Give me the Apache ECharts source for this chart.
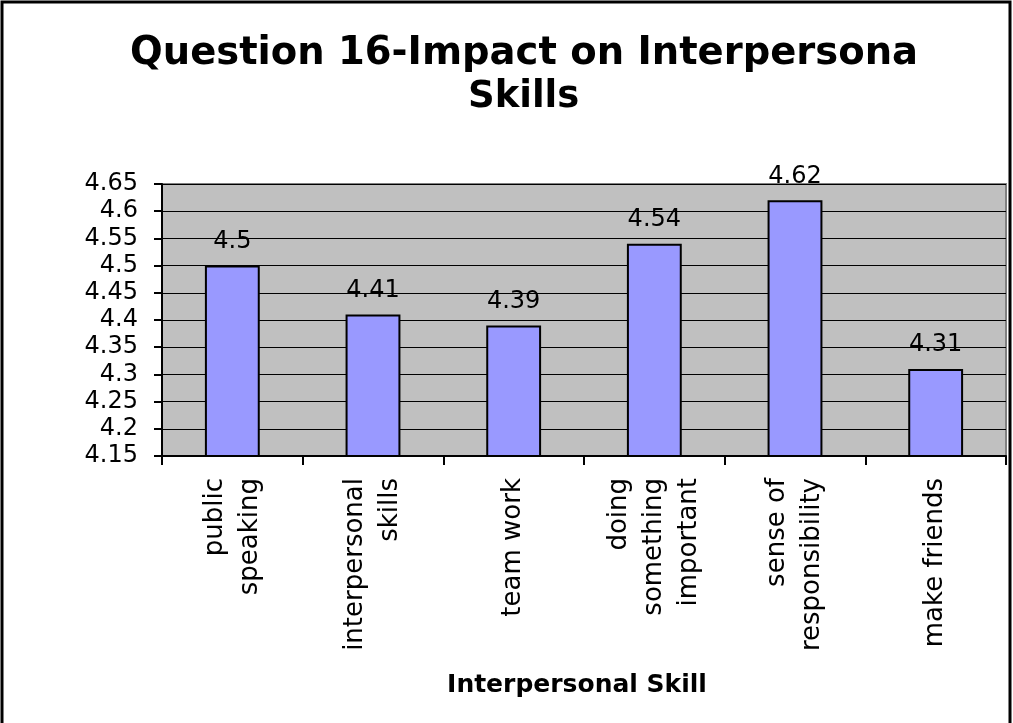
<!DOCTYPE html>
<html>
<head>
<meta charset="utf-8">
<script src="https://cdn.jsdelivr.net/npm/echarts@6/dist/echarts.min.js"></script>
<style>
  html, body { margin: 0; padding: 0; background: #fff; }
  #chart { width: 1013px; height: 723px; }
</style>
</head>
<body>
<div id="chart"></div>
<script>
// data
var titleLine1 = 'Question 16-Impact on Interpersona';
var titleLine2 = 'Skills';
var axisName = 'Interpersonal Skill';
var skills = ['public\nspeaking', 'interpersonal\nskills', 'team work',
  'doing\nsomething\nimportant', 'sense of\nresponsibility', 'make friends'];
var scores = [4.5, 4.41, 4.39, 4.54, 4.62, 4.31];
var yMin = 4.15, yMax = 4.65, yStep = 0.05;

var FONT = 'DejaVu Sans';
var chart = echarts.init(document.getElementById('chart'), null, { renderer: 'canvas' });

var option = {
  backgroundColor: '#fff',
  animation: false,
  title: [{
    text: titleLine1,
    left: 130,
    top: 34,
    padding: 0,
    textStyle: { fontFamily: FONT, fontSize: 38.5, fontWeight: 'bold', color: '#000' }
  }, {
    text: titleLine2,
    left: 468,
    top: 79,
    padding: 0,
    textStyle: { fontFamily: FONT, fontSize: 37, fontWeight: 'bold', color: '#000' }
  }],
  grid: {
    left: 162,
    right: 7,
    top: 184,
    bottom: 267,
    show: true,
    backgroundColor: '#C0C0C0',
    borderColor: '#808080',
    borderWidth: 2
  },
  xAxis: {
    type: 'category',
    data: skills,
    name: axisName,
    nameLocation: 'middle',
    nameGap: 217,
    nameTextStyle: {
      fontFamily: FONT, fontSize: 25, fontWeight: 'bold', color: '#000',
      padding: [0, 14, 0, 0]
    },
    axisLine: { lineStyle: { color: '#000', width: 2 } },
    axisTick: { show: true, length: 9, lineStyle: { color: '#000', width: 2 } },
    axisLabel: {
      rotate: 90,
      margin: 22,
      interval: 0,
      fontFamily: FONT,
      fontSize: 26,
      lineHeight: 35,
      color: '#000'
    }
  },
  yAxis: {
    type: 'value',
    min: yMin,
    max: yMax,
    interval: yStep,
    axisLine: { show: true, lineStyle: { color: '#000', width: 2 } },
    axisTick: { show: true, length: 8, lineStyle: { color: '#000', width: 2 } },
    splitLine: { show: true, lineStyle: { color: '#000', width: 1 } },
    axisLabel: {
      margin: 24,
      fontFamily: FONT,
      fontSize: 24,
      color: '#000',
      formatter: function (v) { return String(+v.toFixed(2)); }
    }
  },
  series: [{
    type: 'bar',
    data: scores,
    barWidth: '39%',
    itemStyle: { color: '#9999FF', borderColor: '#000', borderWidth: 2 },
    label: {
      show: true,
      position: 'top',
      distance: 12,
      fontFamily: FONT,
      fontSize: 24,
      color: '#000'
    }
  }],
  graphic: [{
    type: 'rect',
    shape: { x: 2, y: 2, width: 1008, height: 740 },
    style: { fill: 'none', stroke: '#000', lineWidth: 3 },
    z: 100
  }]
};

chart.setOption(option);
</script>
</body>
</html>
